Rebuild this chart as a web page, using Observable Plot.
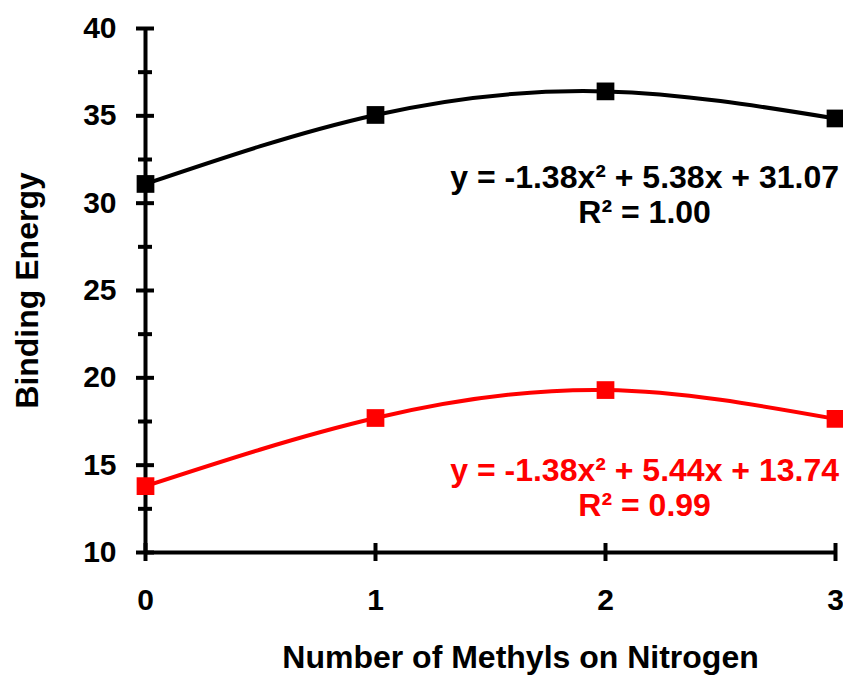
<!DOCTYPE html>
<html><head><meta charset="utf-8">
<script src="https://cdn.jsdelivr.net/npm/d3@7"></script>
<script src="https://cdn.jsdelivr.net/npm/@observablehq/plot@0.6"></script>
<style>body{margin:0;background:#fff;}</style>
</head><body><div id="chart"></div>
<script>
const methyls = [0, 1, 2, 3];
const seriesNames = ["upper", "lower"];
const upperValues = [31.1, 35.05, 36.4, 34.85];
const lowerValues = [13.8, 17.7, 19.3, 17.65];
const seriesColors = ["#000000", "#ff0000"];
const equations = ["y = -1.38x² + 5.38x + 31.07\nR² = 1.00", "y = -1.38x² + 5.44x + 13.74\nR² = 0.99"];
const equationX = [2.17, 2.17];
const equationY = [30.5, 13.75];
const yTicks = [10, 15, 20, 25, 30, 35, 40];
const yMinorTicks = [12.5, 17.5, 22.5, 27.5, 32.5, 37.5];
const xTicks = [0, 1, 2, 3];
const xTitle = "Number of Methyls on Nitrogen";
const yTitle = "Binding Energy";

const data = [];
methyls.forEach((m, i) => {
  data.push({series: "upper", x: m, y: upperValues[i]});
  data.push({series: "lower", x: m, y: lowerValues[i]});
});
const eqData = equations.map((t, i) => ({series: seriesNames[i], text: t, x: equationX[i], y: equationY[i]}));

const font = "'Liberation Sans', Arial, sans-serif";
const chart = Plot.plot({
  width: 843, height: 676,
  marginLeft: 145, marginRight: 8, marginTop: 28, marginBottom: 124,
  x: {domain: [0, 3], axis: null},
  y: {domain: [10, 40], axis: null},
  color: {domain: seriesNames, range: seriesColors},
  style: {fontFamily: font, fontWeight: "bold", background: "white", color: "black"},
  marks: [
    Plot.ruleX([0], {strokeWidth: 4}),
    Plot.ruleY([10], {strokeWidth: 4}),
    Plot.axisY(yTicks, {tickSize: 18, dx: 9, tickPadding: 20, strokeWidth: 4, fontSize: 30, fontWeight: "bold", tickFormat: d => d, label: null}),
    Plot.axisY(yMinorTicks, {tickSize: 14, dx: 7, strokeWidth: 4, text: null, label: null}),
    Plot.axisX(xTicks, {tickSize: 18, dy: -9, tickPadding: 27, strokeWidth: 4, fontSize: 30, fontWeight: "bold", tickFormat: d => d, label: null}),
    Plot.line(data, {x: "x", y: "y", z: "series", stroke: "series", curve: "natural", strokeWidth: 4}),
    Plot.dot(data, {x: "x", y: "y", fill: "series", symbol: "square", r: 10, stroke: "none"}),
    Plot.text(eqData, {x: "x", y: "y", text: "text", fill: "series", fontSize: 32, fontWeight: "bold", lineHeight: 1.09, textAnchor: "middle", lineAnchor: "middle"}),
    Plot.text([yTitle], {frameAnchor: "left", rotate: -90, dx: -118, fontSize: 32, fontWeight: "bold", textAnchor: "middle", lineAnchor: "middle"}),
    Plot.text([xTitle], {frameAnchor: "bottom", dx: 30, dy: 105, fontSize: 32, fontWeight: "bold", textAnchor: "middle", lineAnchor: "middle"})
  ]
});
document.getElementById("chart").appendChild(chart);
</script>
</body></html>
